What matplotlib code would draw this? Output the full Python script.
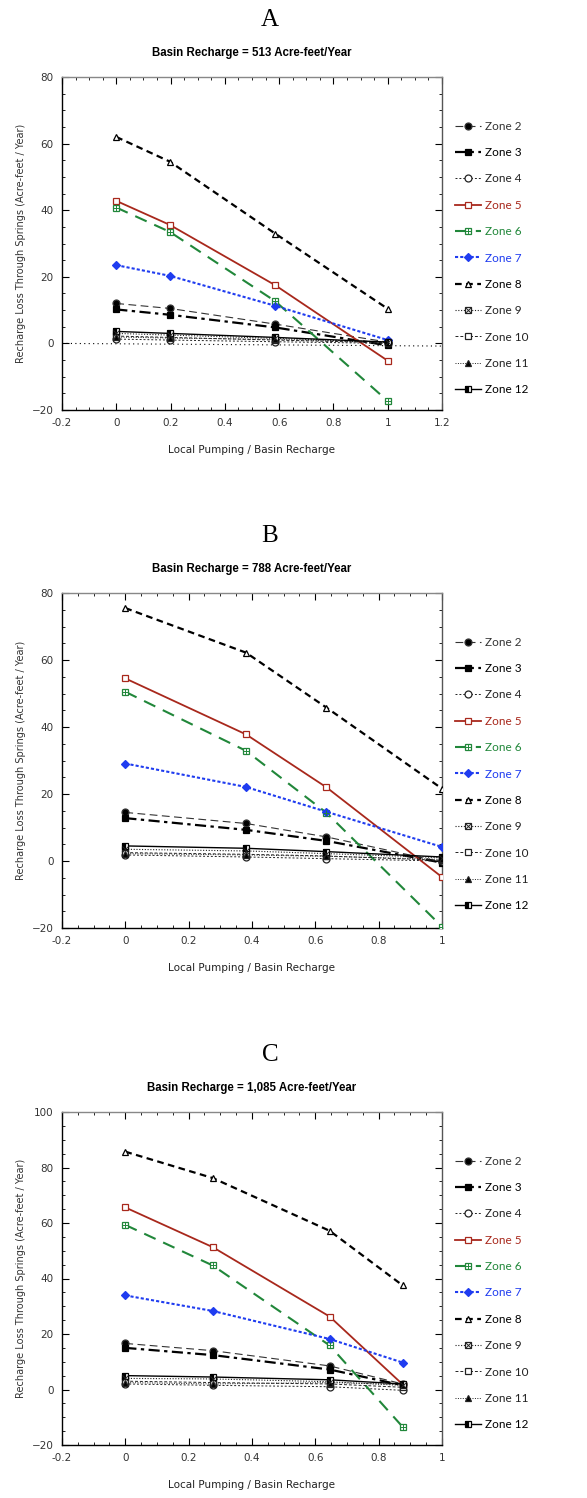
import numpy as np
import matplotlib
matplotlib.use("Agg")
import matplotlib.pyplot as plt
from matplotlib.legend_handler import HandlerTuple

plt.rcParams['font.family'] = ['DejaVu Sans']

zones = ['Zone 2', 'Zone 3', 'Zone 4', 'Zone 5', 'Zone 6', 'Zone 7',
         'Zone 8', 'Zone 9', 'Zone 10', 'Zone 11', 'Zone 12']

# Panel A: basin recharge 513
x_a = [0, 0.197, 0.585, 1.0]
y_a = [
    [12.0, 10.5, 5.8, 0.4],      # zone 2
    [10.2, 8.6, 4.8, -0.6],      # zone 3
    [1.3, 1.0, 0.5, 0.0],        # zone 4
    [42.8, 35.6, 17.5, -5.2],    # zone 5
    [40.8, 33.5, 12.7, -17.3],   # zone 6
    [23.5, 20.3, 11.3, 1.0],     # zone 7
    [62.0, 54.6, 33.0, 10.4],    # zone 8
    [3.0, 2.5, 1.5, 0.4],        # zone 9
    [2.2, 1.8, 1.0, 0.2],        # zone 10
    [1.9, 1.6, 1.2, 0.3],        # zone 11
    [3.6, 3.0, 1.8, 0.4],        # zone 12
]

# Panel B: basin recharge 788
x_b = [0, 0.381, 0.635, 1.0]
y_b = [
    [14.5, 11.2, 7.2, -0.3],
    [12.8, 9.3, 6.0, -0.5],
    [1.8, 1.2, 0.7, 0.0],
    [54.5, 37.8, 22.0, -4.8],
    [50.5, 32.9, 14.4, -19.6],
    [29.1, 22.1, 14.7, 4.2],
    [75.5, 62.2, 45.8, 21.6],
    [3.5, 3.0, 2.2, 1.0],
    [2.5, 2.0, 1.5, 0.2],
    [2.2, 1.8, 1.4, 0.5],
    [4.5, 3.8, 2.8, 1.2],
]

# Panel C: basin recharge 1,085
x_c = [0, 0.276, 0.645, 0.876]
y_c = [
    [16.6, 14.0, 8.5, 2.0],
    [15.0, 12.4, 7.2, 1.5],
    [2.0, 1.5, 1.0, -0.3],
    [65.6, 51.3, 26.3, 1.8],
    [59.3, 44.7, 15.9, -13.5],
    [33.9, 28.3, 18.2, 9.7],
    [85.7, 76.2, 57.2, 37.5],
    [4.0, 3.8, 2.8, 1.5],
    [3.0, 2.5, 2.0, 0.8],
    [2.5, 2.0, 2.5, 1.8],
    [5.0, 4.5, 3.5, 2.0],
]

RED = '#a8281c'
GREEN = '#21873a'
BLUE = '#1f3cf0'

# zone styles: color, linestyle, linewidth, marker, markerfacecolor, overlay marker
styles = [
    ('#333333', (0, (7, 4)), 0.8, 'o', 'black', None),
    ('black', (0, (5, 2, 1.5, 2)), 1.6, 's', 'black', None),
    ('#222222', (0, (2, 2)), 0.7, 'o', 'white', None),
    (RED, '-', 1.3, 's', 'white', None),
    (GREEN, (0, (6, 4)), 1.5, 's', 'white', '+'),
    (BLUE, (0, (1.5, 1)), 1.5, 'D', BLUE, None),
    ('black', (0, (3, 2)), 1.6, '^', 'white', None),
    ('#222222', (0, (1, 1.5)), 0.8, 's', 'white', 'x'),
    ('#222222', (0, (3, 2)), 0.7, 's', 'white', None),
    ('#222222', (0, (1, 1.5)), 0.7, '^', 'black', None),
    ('black', '-', 1.0, 's', 'half', None),
]

W, H = 587, 1498
fig = plt.figure(figsize=(W / 100, H / 100), dpi=100)


def draw_panel(letter, title, xs, ys, top, bottom, ymax, xmax, zero_line):
    ax = fig.add_axes([62 / W, 1 - bottom / H, 380 / W, (bottom - top) / H])
    if zero_line:
        ax.plot([-0.2, 1.2], [0, -0.8], color='black', lw=0.8,
                linestyle=(0, (1, 3)), zorder=1)
    handles = []
    for k, (col, ls, lw, mk, mfc, over) in enumerate(styles):
        ms = 5 if mk != 'D' else 4
        kw = dict(marker=mk, markersize=ms, markeredgecolor=col, markeredgewidth=0.9)
        if mfc == 'half':
            kw.update(fillstyle='left', markerfacecolor=col, markerfacecoloralt='white')
        else:
            kw.update(markerfacecolor=mfc)
        ln, = ax.plot(xs, ys[k], color=col, linestyle=ls, lw=lw, zorder=3, **kw)
        if over:
            ov, = ax.plot(xs, ys[k], linestyle='none', marker=over, markersize=4,
                          markeredgecolor=col, markeredgewidth=0.7, zorder=4)
            handles.append((ln, ov))
        else:
            handles.append(ln)
    ax.set_xlim(-0.2, xmax)
    ax.set_ylim(-20, ymax)
    xt = np.arange(-0.2, xmax + 0.01, 0.2)
    ax.set_xticks(xt)
    ax.set_xticklabels(['%g' % round(v, 1) for v in xt])
    ax.set_xticks(np.arange(-0.2, xmax + 0.01, 0.05), minor=True)
    ax.set_yticks(np.arange(-20, ymax + 1, 20))
    ax.set_yticks(np.arange(-20, ymax + 1, 5), minor=True)
    ax.tick_params(which='both', direction='in', top=True, right=True,
                   labelsize=7.5, labelcolor='#333333', pad=6)
    ax.tick_params(which='major', length=5, width=0.8)
    ax.tick_params(which='minor', length=2.5, width=0.6)
    for sp in ax.spines.values():
        sp.set_linewidth(1.0)
    ax.spines['right'].set_color('#555555')
    ax.spines['top'].set_color('#888888')
    ax.set_xlabel('Local Pumping / Basin Recharge', fontsize=7.5, labelpad=12,
                  color='#222222')
    ax.set_ylabel('Recharge Loss Through Springs (Acre-feet / Year)', fontsize=7,
                  labelpad=4, color='#333333')
    fig.text(252 / W, 1 - (top - 24) / H, title, ha='center', va='center',
             fontsize=8.3, fontweight='bold', family='Liberation Sans')
    fig.text(270 / W, 1 - (top - 57) / H, letter, ha='center', va='center',
             fontsize=18, family='Liberation Serif')
    ax.legend(handles, zones, loc='center left',
              bbox_to_anchor=(455 / W, 1 - (top + 181) / H),
              bbox_transform=fig.transFigure, frameon=False,
              prop={'family': 'Lato', 'size': 8.5},
              numpoints=1, handlelength=2.2, handletextpad=0.3,
              labelspacing=1.3, borderpad=0, borderaxespad=0,
              labelcolor='linecolor',
              handler_map={tuple: HandlerTuple(ndivide=1)})
    return ax


draw_panel('A', 'Basin Recharge = 513 Acre-feet/Year', x_a, y_a, 77, 410, 80, 1.2, True)
draw_panel('B', 'Basin Recharge = 788 Acre-feet/Year', x_b, y_b, 593, 928, 80, 1.0, False)
draw_panel('C', 'Basin Recharge = 1,085 Acre-feet/Year', x_c, y_c, 1112, 1445, 100, 1.0, False)

fig.savefig('out.png', dpi=100)
